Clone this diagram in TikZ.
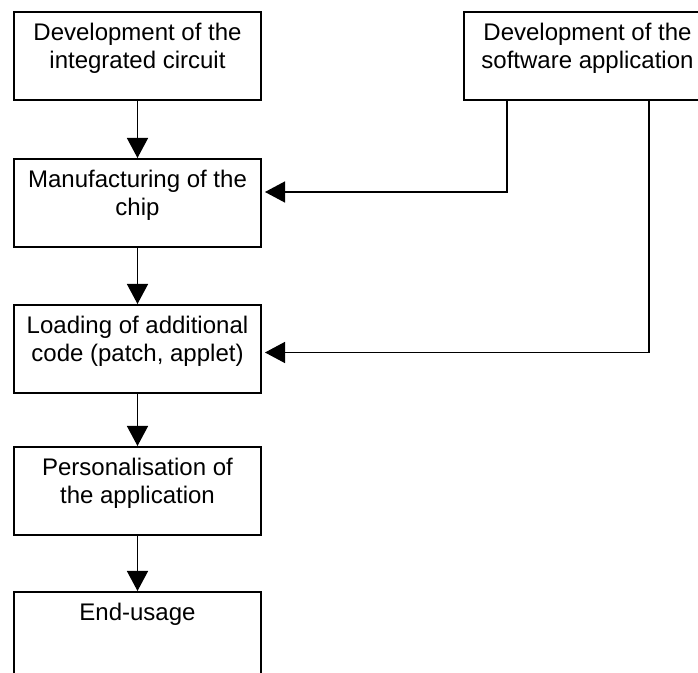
\documentclass[tikz,border=0pt]{standalone}
\usepackage{fontspec}
\setmainfont{Liberation Sans}
\usetikzlibrary{arrows.meta}
\tikzset{
  stage/.style={draw, line width=1pt, minimum width=123.5pt, minimum height=44pt,
    anchor=north west, inner sep=0pt},
  stagetext/.style={anchor=north, align=center, inner sep=0pt,
    font=\fontsize{12pt}{13.8pt}\selectfont},
  flow/.style={-{Triangle[length=10pt,width=10.5pt]}, line width=0.7pt},
}
\begin{document}
\begin{tikzpicture}[x=0.5pt,y=-0.5pt]
\useasboundingbox (0,0) rectangle (698,673);
\clip (0,0) rectangle (698,673);
% boxes
\node[stage] (ic) at (13,11) {};
\node[stage] (sw) at (463,11) {};
\node[stage] (chip) at (13,158) {};
\node[stage] (load) at (13,304) {};
\node[stage] (perso) at (13,446) {};
\node[stage] (use) at (13,591) {};
% texts
\node[stagetext] (icT) at ([yshift=-6pt]ic.north) {Development of the\\integrated circuit};
\node[stagetext] (swT) at ([yshift=-6pt]sw.north) {Development of the\\software application};
\node[stagetext] (chipT) at ([yshift=-6pt]chip.north) {Manufacturing of the\\chip};
\node[stagetext] (loadT) at ([yshift=-6pt]load.north) {Loading of additional\\code (patch, applet)};
\node[stagetext] (persoT) at ([yshift=-6pt]perso.north) {Personalisation of\\the application};
\node[stagetext] (useT) at ([yshift=-6pt]use.north) {End-usage};
% arrows
\draw[flow] (ic) -- (chip);
\draw[flow] (chip) -- (load);
\draw[flow] (load) -- (perso);
\draw[flow] (perso) -- (use);
\coordinate (swA) at ([xshift=22pt]sw.south west);
\coordinate (swB) at ([xshift=93pt]sw.south west);
\draw[flow, shorten >=1.5pt] (swA) |- ([yshift=5.5pt]chip.east);
\draw[flow, shorten >=1.5pt] (swB) |- ([yshift=-1.75pt]load.east);
\end{tikzpicture}
\end{document}
